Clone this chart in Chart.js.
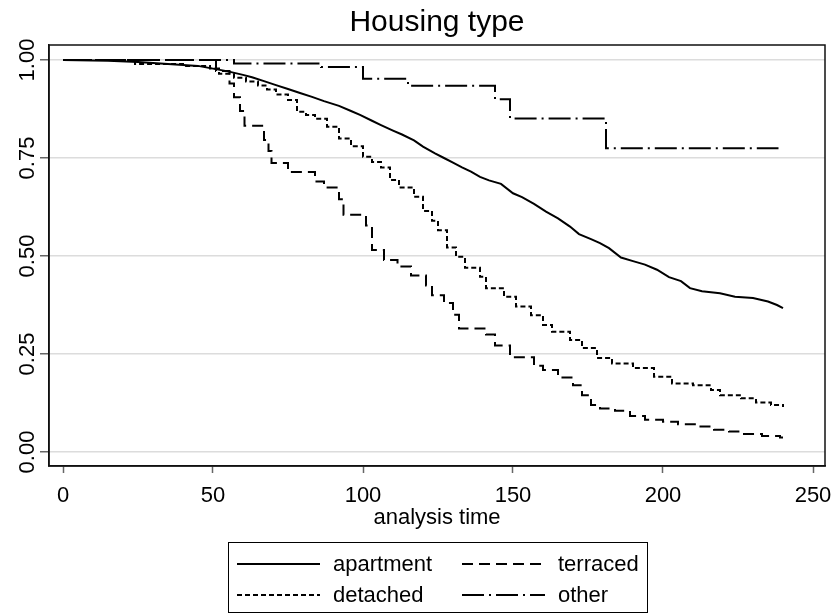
<!DOCTYPE html>
<html>
<head>
<meta charset="utf-8">
<script src="https://cdn.jsdelivr.net/npm/chart.js@4.4.0/dist/chart.umd.min.js"></script>
<style>
  html, body { margin: 0; padding: 0; background: #fff; }
</style>
</head>
<body>
<canvas id="kmChart" width="834" height="614"></canvas>
<script>
// Kaplan-Meier curves by housing type
const xTicks = [0, 50, 100, 150, 200, 250];
const yTicks = [0, 0.25, 0.5, 0.75, 1];

const apartmentTime = [0, 15, 25, 35, 45, 50, 55, 60, 63, 67, 71, 75, 79, 83, 87, 92, 96, 99, 103, 106,
  110, 113, 117, 120, 124, 127, 130, 133, 136, 139, 142, 146, 150, 153, 157, 161, 165, 169, 172, 176,
  179, 182, 186, 190, 194, 198, 202, 206, 209, 213, 219, 224, 230, 235, 238, 240];
const apartmentSurv = [1.0, 0.998, 0.995, 0.99, 0.985, 0.978, 0.971, 0.962, 0.956, 0.946, 0.936, 0.926, 0.916, 0.906, 0.895, 0.883, 0.87, 0.86, 0.845, 0.834,
  0.82, 0.81, 0.795, 0.779, 0.762, 0.75, 0.738, 0.726, 0.715, 0.702, 0.693, 0.684, 0.66, 0.65, 0.633, 0.613, 0.596, 0.575, 0.556, 0.543,
  0.533, 0.52, 0.496, 0.487, 0.478, 0.465, 0.446, 0.436, 0.418, 0.41, 0.405, 0.396, 0.393, 0.384, 0.375, 0.367];

const detachedTime = [0, 24, 40, 49, 52, 57, 61, 65, 68, 71, 75, 78, 81, 84, 88, 92, 96, 100, 103, 106,
  109, 112, 117, 120, 123, 125, 128, 131, 134, 139, 141, 147, 151, 156, 160, 163, 169, 173, 178, 183,
  190, 197, 203, 210, 216, 219, 226, 231, 236, 240];
const detachedSurv = [1.0, 0.99, 0.985, 0.978, 0.965, 0.955, 0.945, 0.935, 0.925, 0.912, 0.898, 0.868, 0.86, 0.85, 0.83, 0.80, 0.78, 0.753, 0.74, 0.726,
  0.694, 0.675, 0.651, 0.615, 0.59, 0.566, 0.522, 0.498, 0.47, 0.447, 0.418, 0.396, 0.371, 0.349, 0.324, 0.307, 0.286, 0.265, 0.24, 0.226,
  0.214, 0.192, 0.175, 0.17, 0.158, 0.145, 0.137, 0.126, 0.12, 0.115];

const terracedTime = [0, 51, 55.5, 57, 59, 60.5, 67, 68.5, 69.5, 75, 84, 87, 92, 93.5, 101, 103, 107, 111.5, 116, 121,
  123, 127, 130, 132, 141, 144, 149, 157, 160, 165, 170, 173, 176, 179, 184, 189, 194, 200, 205, 212,
  217, 222, 227, 233, 239, 240];
const terracedSurv = [1.0, 0.972, 0.94, 0.905, 0.87, 0.832, 0.796, 0.768, 0.737, 0.714, 0.69, 0.675, 0.645, 0.605, 0.578, 0.515, 0.49, 0.473, 0.45, 0.425,
  0.40, 0.38, 0.35, 0.315, 0.30, 0.272, 0.242, 0.22, 0.209, 0.19, 0.17, 0.145, 0.12, 0.111, 0.105, 0.092, 0.082, 0.077, 0.071, 0.065,
  0.057, 0.052, 0.046, 0.041, 0.037, 0.037];

const otherTime = [0, 57, 86, 100, 115, 144, 149, 181, 238.5];
const otherSurv = [1.0, 0.991, 0.982, 0.952, 0.934, 0.90, 0.851, 0.775, 0.775];

const FONT = '"Liberation Sans", Arial, sans-serif';
Chart.defaults.font.family = FONT;
Chart.defaults.color = '#000';

// Zeit/Überleben-Paare für Chart.js
const toPoints = (t, s) => t.map((v, i) => ({ x: v, y: s[i] }));

const makeSet = (label, t, s, dash, stepped) => ({
  label: label,
  data: toPoints(t, s),
  borderColor: '#000',
  borderWidth: 2,
  borderDash: dash,
  pointRadius: 0,
  fill: false,
  stepped: stepped
});

// Rahmen um den Plotbereich
const plotFrame = {
  id: 'plotFrame',
  afterDatasetsDraw(chart) {
    const a = chart.chartArea;
    const c = chart.ctx;
    c.save();
    c.strokeStyle = '#111';
    c.lineWidth = 1.5;
    c.strokeRect(a.left, a.top, a.right - a.left, a.bottom - a.top);
    c.restore();
  }
};

// Legende im Stata-Stil: Kasten, zwei Spalten
const boxLegend = {
  id: 'boxLegend',
  afterDraw(chart) {
    const c = chart.ctx;
    const rows = [[0, 237, 564], [2, 462, 564], [1, 237, 595], [3, 462, 595]];
    c.save();
    c.strokeStyle = '#000';
    c.lineWidth = 1;
    c.strokeRect(228.5, 542.5, 419, 70);
    c.font = '22px ' + FONT;
    c.textBaseline = 'middle';
    rows.forEach(([i, x, y]) => {
      const ds = chart.data.datasets[i];
      c.setLineDash(ds.borderDash || []);
      c.lineWidth = ds.borderWidth;
      c.strokeStyle = ds.borderColor;
      c.beginPath();
      c.moveTo(x, y);
      c.lineTo(x + 83, y);
      c.stroke();
      c.setLineDash([]);
      c.fillStyle = '#000';
      c.fillText(ds.label, x + 96, y + 1);
    });
    c.restore();
  }
};

const kmChart = new Chart(document.getElementById('kmChart').getContext('2d'), {
  type: 'line',
  data: {
    datasets: [
      makeSet('apartment', apartmentTime, apartmentSurv, [], false),
      makeSet('detached', detachedTime, detachedSurv, [5, 3], 'before'),
      makeSet('terraced', terracedTime, terracedSurv, [11, 6], 'before'),
      makeSet('other', otherTime, otherSurv, [22, 5, 2, 5], 'before')
    ]
  },
  options: {
    responsive: false,
    animation: false,
    devicePixelRatio: 1,
    layout: { padding: { left: 0, right: 9, top: 0, bottom: 78 } },
    plugins: {
      legend: { display: false },
      tooltip: { enabled: false },
      title: {
        display: true,
        fullSize: false,
        text: 'Housing type',
        color: '#000',
        font: { size: 30, weight: 'normal' },
        padding: { top: 5, bottom: 4 }
      }
    },
    scales: {
      x: {
        type: 'linear',
        min: -14 / 3,
        max: 254,
        afterBuildTicks: s => { s.ticks = xTicks.map(v => ({ value: v })); },
        afterFit: s => { s.height = 70; s.paddingLeft = 0; s.paddingRight = 0; },
        grid: { drawOnChartArea: false, drawTicks: true, tickLength: 7, tickColor: '#666', tickWidth: 1.5 },
        border: { display: true, color: '#111', width: 1.5 },
        ticks: { font: { size: 22 }, padding: 10, color: '#000', maxRotation: 0 },
        title: {
          display: true,
          text: 'analysis time',
          color: '#000',
          font: { size: 22 },
          padding: { top: 0, bottom: 5 }
        }
      },
      y: {
        min: -14 / 392,
        max: 1 + 15 / 392,
        afterBuildTicks: s => { s.ticks = yTicks.map(v => ({ value: v })); },
        afterFit: s => { s.width = 49; s.paddingTop = 0; s.paddingBottom = 0; },
        grid: { color: '#dcdcdc', lineWidth: 1.5, tickLength: 9, tickColor: '#666', tickWidth: 1.5 },
        border: { display: true, color: '#111', width: 1.5 },
        ticks: {
          font: { size: 22 },
          color: '#000',
          minRotation: 90,
          maxRotation: 90,
          crossAlign: 'center',
          padding: -9,
          callback: v => v.toFixed(2)
        }
      }
    }
  },
  plugins: [plotFrame, boxLegend]
});
</script>
</body>
</html>
